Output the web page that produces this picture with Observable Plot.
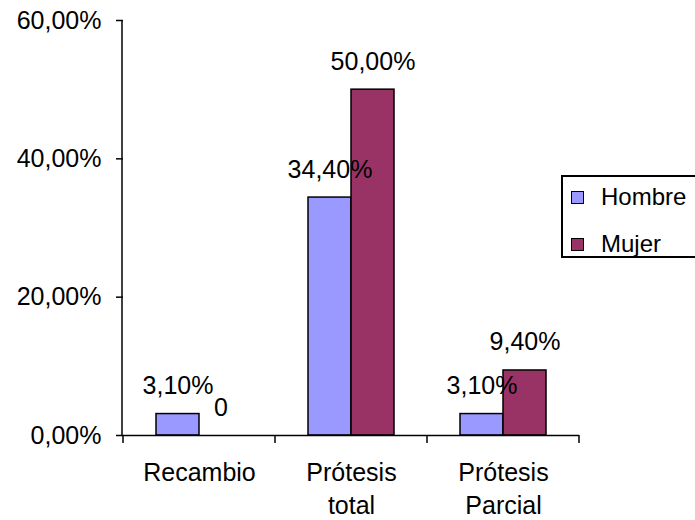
<!DOCTYPE html>
<html>
<head>
<meta charset="utf-8">
<script src="https://cdn.jsdelivr.net/npm/d3@7"></script>
<script src="https://cdn.jsdelivr.net/npm/@observablehq/plot@0.6"></script>
<style>
  body { margin: 0; background: #fff; font-family: "Liberation Sans", Arial, sans-serif; }
  #wrap { position: relative; width: 695px; height: 520px; overflow: hidden; }
  .legend { position: absolute; left: 561px; top: 175px; width: 150px; height: 83px;
            border: 2px solid #000; box-sizing: border-box; background: #fff; }
  .legend .item { position: absolute; left: 8px; height: 24px; display: flex; align-items: center;
                  font-size: 24px; color: #000; white-space: nowrap; }
  .legend .sw { width: 13px; height: 13px; border: 1.5px solid #000; box-sizing: border-box;
                margin-right: 17px; flex: none; }
</style>
</head>
<body>
<div id="wrap"></div>
<script>
// Categories and series values (percent)
const categories = ["Recambio", "Prótesis total", "Prótesis Parcial"];
const categoryLabels = ["Recambio", "Prótesis\ntotal", "Prótesis\nParcial"];
const series = ["Hombre", "Mujer"];
const hombre = [3.1, 34.4, 3.1];
const mujer = [0, 50.0, 9.4];
const yTicks = [0, 20, 40, 60];
const colors = ["#9999FF", "#993366"];

const rows = categories.flatMap((cat, i) => [
  {cat, sex: "Hombre", value: hombre[i]},
  {cat, sex: "Mujer", value: mujer[i]}
]);

const pct = v => v.toFixed(2).replace(".", ",") + "%";
const valueLabel = v => v === 0 ? "0" : pct(v);
const font = "'Liberation Sans', Arial, sans-serif";

const chart = Plot.plot({
  width: 695,
  height: 520,
  marginLeft: 122,
  marginRight: 115,
  marginTop: 20,
  marginBottom: 85,
  style: {fontFamily: font, fontSize: "25px", color: "#000", background: "transparent"},
  fx: {domain: categories, padding: 0, axis: null, label: null},
  x: {domain: series, paddingInner: 0, paddingOuter: 0.735, axis: null},
  y: {domain: [0, 60], axis: null},
  color: {domain: series, range: colors},
  marks: [
    Plot.axisY({ticks: yTicks, tickSize: 7, tickPadding: 15, tickFormat: pct,
                label: null, strokeWidth: 1.5, fontSize: 25}),
    Plot.barY(rows, {fx: "cat", x: "sex", y: "value", fill: "sex",
                     stroke: "#000", strokeWidth: 1.5}),
    Plot.ruleY([0], {stroke: "#000", strokeWidth: 1.5}),
    Plot.text(rows, {fx: "cat", x: "sex", y: "value", text: d => valueLabel(d.value),
                     lineAnchor: "bottom", dy: -20, fontSize: 25, fill: "#000"}),
    Plot.text(categories, {fx: d => d, text: (d, i) => categoryLabels[i],
                           frameAnchor: "bottom", lineAnchor: "top", dy: 22,
                           lineHeight: 1.33, fontSize: 25, fill: "#000"})
  ]
});

// Vertical axis line and category boundary ticks on the baseline
const fx = chart.scale("fx");
const ys = chart.scale("y");
const svg = d3.select(chart);
const y0 = ys.apply(0), yTop = ys.apply(60);
const left = fx.range[0];
const g = svg.append("g").attr("stroke", "#000").attr("stroke-width", 1.5);
g.append("line").attr("x1", left).attr("x2", left).attr("y1", y0).attr("y2", yTop);
const edges = categories.map(c => fx.apply(c)).concat([fx.apply(categories[categories.length - 1]) + fx.bandwidth]);
edges.forEach(x => {
  g.append("line").attr("x1", x).attr("x2", x).attr("y1", y0).attr("y2", y0 + 8);
});

const wrap = document.getElementById("wrap");
wrap.appendChild(chart);

// Legend
const legend = d3.select(wrap).append("div").attr("class", "legend");
series.forEach((s, i) => {
  const item = legend.append("div").attr("class", "item").style("top", (8 + i * 47) + "px");
  item.append("span").attr("class", "sw").style("background", colors[i]);
  item.append("span").text(s);
});
</script>
</body>
</html>
